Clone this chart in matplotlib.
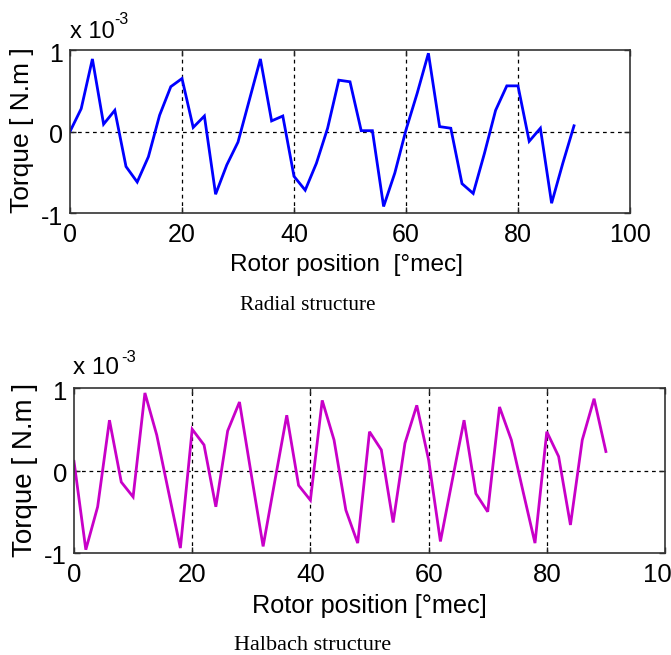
import numpy as np
import matplotlib
matplotlib.use("Agg")
import matplotlib.pyplot as plt
import matplotlib.transforms as mtransforms

# Data (torque in units of 1e-3 N.m)
pos_radial = list(range(0, 91, 2))
torque_radial = [0, 0.28, 0.89, 0.09, 0.26, -0.43, -0.62, -0.31, 0.2, 0.55,
                 0.65, 0.05, 0.19, -0.77, -0.41, -0.13, 0.38, 0.89, 0.13, 0.19,
                 -0.55, -0.72, -0.39, 0.04, 0.63, 0.61, 0.01, 0.01, -0.92, -0.51,
                 0.02, 0.47, 0.96, 0.06, 0.04, -0.64, -0.76, -0.27, 0.26, 0.56,
                 0.56, -0.12, 0.04, -0.88, -0.39, 0.07]
pos_halbach = list(range(0, 91, 2))
torque_halbach = [0.11, -0.96, -0.44, 0.61, -0.14, -0.32, 0.94, 0.43, -0.26, -0.94,
                  0.5, 0.31, -0.44, 0.48, 0.83, -0.05, -0.92, -0.12, 0.67, -0.18,
                  -0.36, 0.85, 0.37, -0.48, -0.88, 0.47, 0.25, -0.63, 0.33, 0.79,
                  0.13, -0.86, -0.12, 0.61, -0.28, -0.5, 0.77, 0.37, -0.26, -0.88,
                  0.47, 0.17, -0.66, 0.37, 0.87, 0.23]
xticks = [0, 20, 40, 60, 80, 100]
yticks = [-1, 0, 1]
ytick_labels = ["-1", "0", "1"]

W, H = 671, 655
fig = plt.figure(figsize=(W / 100, H / 100), dpi=100)
plt.rcParams['font.family'] = ['Liberation Sans', 'DejaVu Sans']

def px_axes(l, r, t, b):
    return fig.add_axes([l / W, (H - b) / H, (r - l) / W, (b - t) / H])

def style(ax, x, y, color, fs):
    ax.plot(x, y, color=color, lw=2.0, solid_joinstyle='miter')
    ax.set_xlim(0, 100)
    ax.set_ylim(-1, 1)
    ax.set_xticks(xticks)
    ax.set_yticks(yticks)
    ax.set_yticklabels(ytick_labels)
    ax.tick_params(direction='in', length=4, width=1.0, labelsize=fs,
                   top=True, right=True, colors='#222222', labelcolor='black')
    ax.tick_params(axis='x', pad=7)
    ax.tick_params(axis='y', pad=5)
    off = mtransforms.ScaledTranslation(0, -2 / 100, fig.dpi_scale_trans)
    for lab in ax.get_yticklabels():
        lab.set_transform(lab.get_transform() + off)
    for s in ax.spines.values():
        s.set_color('#333333')
        s.set_linewidth(1.2)
    for xv in [20, 40, 60, 80]:
        ax.axvline(xv, color='black', lw=0.9, ls=(0, (3, 3)), zorder=0)
    ax.axhline(0, color='black', lw=0.9, ls=(0, (3, 3)), zorder=0)

# Top: radial
ax1 = px_axes(70, 630, 50, 213)
style(ax1, pos_radial, torque_radial, '#0000ff', 18)
fig.text(70 / W, 1 - 32 / H, 'x 10', fontsize=17, ha='left', va='center')
fig.text(114 / W, 1 - 19 / H, '-3', fontsize=11.5, ha='left', va='center')
fig.text(22 / W, 1 - 130 / H, 'Torque [ N.m ]', fontsize=19, rotation=90,
         ha='center', va='center')
fig.text(347 / W, 1 - 265 / H, 'Rotor position  [°mec]', fontsize=17.6,
         ha='center', va='center')
fig.text(308 / W, 1 - 305 / H, 'Radial structure', fontsize=15.3,
         family='Liberation Serif', ha='center', va='center')

# Bottom: halbach
ax2 = px_axes(74, 665, 388, 553)
style(ax2, pos_halbach, torque_halbach, '#c800c8', 18.5)
fig.text(73 / W, 1 - 368 / H, 'x 10', fontsize=17.5, ha='left', va='center')
fig.text(121 / W, 1 - 357 / H, '-3', fontsize=12, ha='left', va='center')
fig.text(25 / W, 1 - 470 / H, 'Torque [ N.m ]', fontsize=20, rotation=90,
         ha='center', va='center')
fig.text(369 / W, 1 - 606 / H, 'Rotor position [°mec]', fontsize=18.2,
         ha='center', va='center')
fig.text(313 / W, 1 - 645 / H, 'Halbach structure', fontsize=16,
         family='Liberation Serif', ha='center', va='center')

fig.savefig('out.png', dpi=100)
